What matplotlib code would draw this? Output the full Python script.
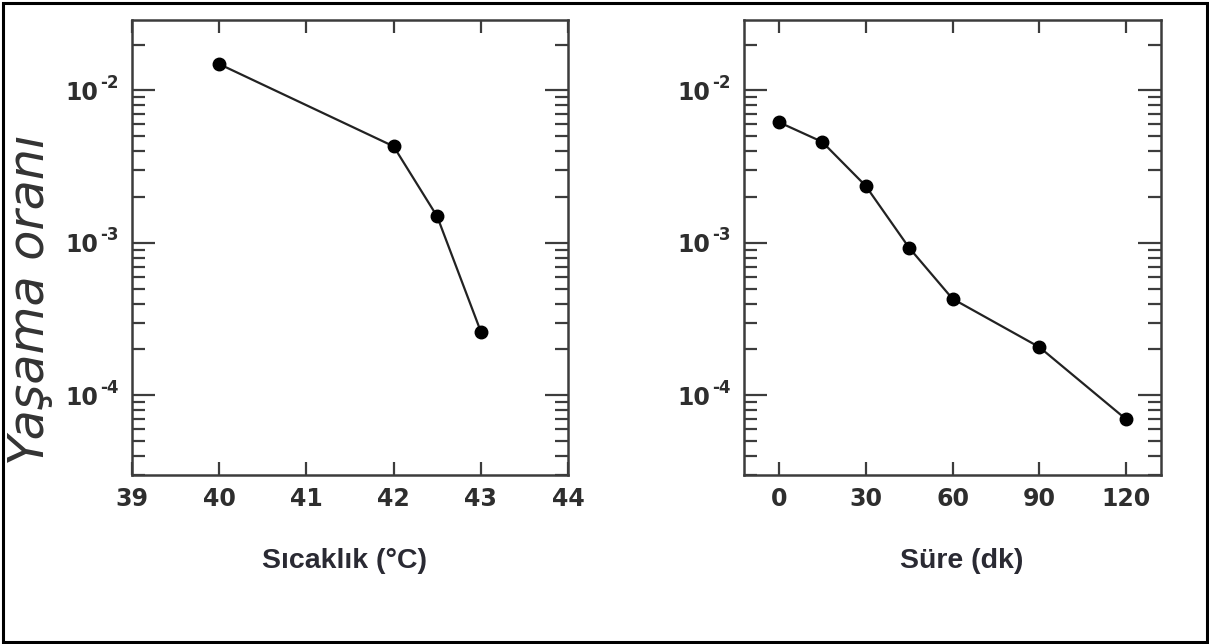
import matplotlib
matplotlib.use("Agg")
import matplotlib.pyplot as plt
from matplotlib.ticker import FixedLocator, LogLocator, NullFormatter
from matplotlib.patches import Rectangle
import numpy as np

# Survival fraction vs. temperature
temp_c = [40, 42, 42.5, 43]
temp_survival = [1.49e-2, 4.3e-3, 1.49e-3, 2.62e-4]

# Survival fraction vs. heating time at fixed temperature
time_min = [0, 15, 30, 45, 60, 90, 120]
time_survival = [6.2e-3, 4.6e-3, 2.37e-3, 9.3e-4, 4.3e-4, 2.07e-4, 6.95e-5]

temp_ticks = [39, 40, 41, 42, 43, 44]
time_ticks = [0, 30, 60, 90, 120]
y_major = [1e-4, 1e-3, 1e-2]

x_label_temp = "Sıcaklık (°C)"
x_label_time = "Süre (dk)"
y_label = "Yaşama oranı"

W, H = 1209, 644
PT = 72 / 100  # points per pixel at 100 dpi
fig = plt.figure(figsize=(W / 100, H / 100), dpi=100)
fig.patch.set_facecolor("white")

ink = "#2e2e2e"
spine_c = "#3c3c3c"


def frac_box(x0, x1, y0, y1):
    return [x0 / W, 1 - y1 / H, (x1 - x0) / W, (y1 - y0) / H]


ax1 = fig.add_axes(frac_box(132, 568, 20, 475))
ax2 = fig.add_axes(frac_box(744, 1161, 20, 475))


def style(ax, xticks, xlim, xlabel, label_x):
    ax.set_yscale("log")
    ax.set_ylim(3.0e-5, 2.9e-2)
    ax.set_xlim(*xlim)
    ax.set_xticks(xticks, labels=[str(t) for t in xticks], fontweight="bold",
                  family="DejaVu Sans")
    ax.xaxis.set_minor_locator(FixedLocator([]))
    # mantissa as the tick label, exponent set as a raised text beside it
    ax.set_yticks(y_major, labels=["10"] * len(y_major), fontweight="bold",
                  family="DejaVu Sans")
    ax.yaxis.set_minor_locator(LogLocator(base=10, subs=np.arange(2, 10), numticks=20))
    ax.yaxis.set_minor_formatter(NullFormatter())
    for v in y_major:
        e = int(round(np.log10(v)))
        ax.annotate("-%d" % abs(e), xy=(0, v), xycoords=("axes fraction", "data"),
                    xytext=(-13 * PT, 2.5 * PT), textcoords="offset points",
                    ha="right", va="baseline", fontsize=12, fontweight="bold",
                    family="DejaVu Sans", color=ink)
    for s in ax.spines.values():
        s.set_linewidth(1.8)
        s.set_color(spine_c)
    ax.tick_params(axis="both", which="both", direction="in", top=True, right=True,
                   color=spine_c, width=1.6)
    ax.tick_params(axis="x", which="major", length=9.5, pad=9, labelsize=17,
                   labelcolor=ink)
    ax.tick_params(axis="y", which="major", length=16.5, pad=34 * PT, labelsize=17,
                   labelcolor=ink)
    ax.tick_params(axis="y", which="minor", length=9.5)
    ax.set_xlabel(xlabel, fontsize=20.5, fontweight="bold", family="Liberation Sans",
                  color="#2a2a33")
    ax.xaxis.label.set_va("baseline")
    ax.xaxis.set_label_coords(label_x, (475 - 568) / 455)


ax1.plot(temp_c, temp_survival, color="#222222", lw=1.6, marker="o", ms=9,
         mfc="black", mec="black")
ax2.plot(time_min, time_survival, color="#222222", lw=1.6, marker="o", ms=9,
         mfc="black", mec="black")

style(ax1, temp_ticks, (39, 44), x_label_temp, (345 - 132) / 436)
style(ax2, time_ticks, (-12, 132), x_label_time, (962 - 744) / 417)

fig.text(30 / W, 1 - 300 / H, y_label, rotation=90, ha="center", va="center",
         fontsize=35.5, style="italic", family="DejaVu Sans", color="#333333")

fig.patches.append(Rectangle((2.5 / W, 2.5 / H), (W - 5) / W, (H - 5) / H,
                             transform=fig.transFigure, fill=False,
                             edgecolor="black", linewidth=2.2))

fig.savefig("out.png", dpi=100, facecolor="white")
